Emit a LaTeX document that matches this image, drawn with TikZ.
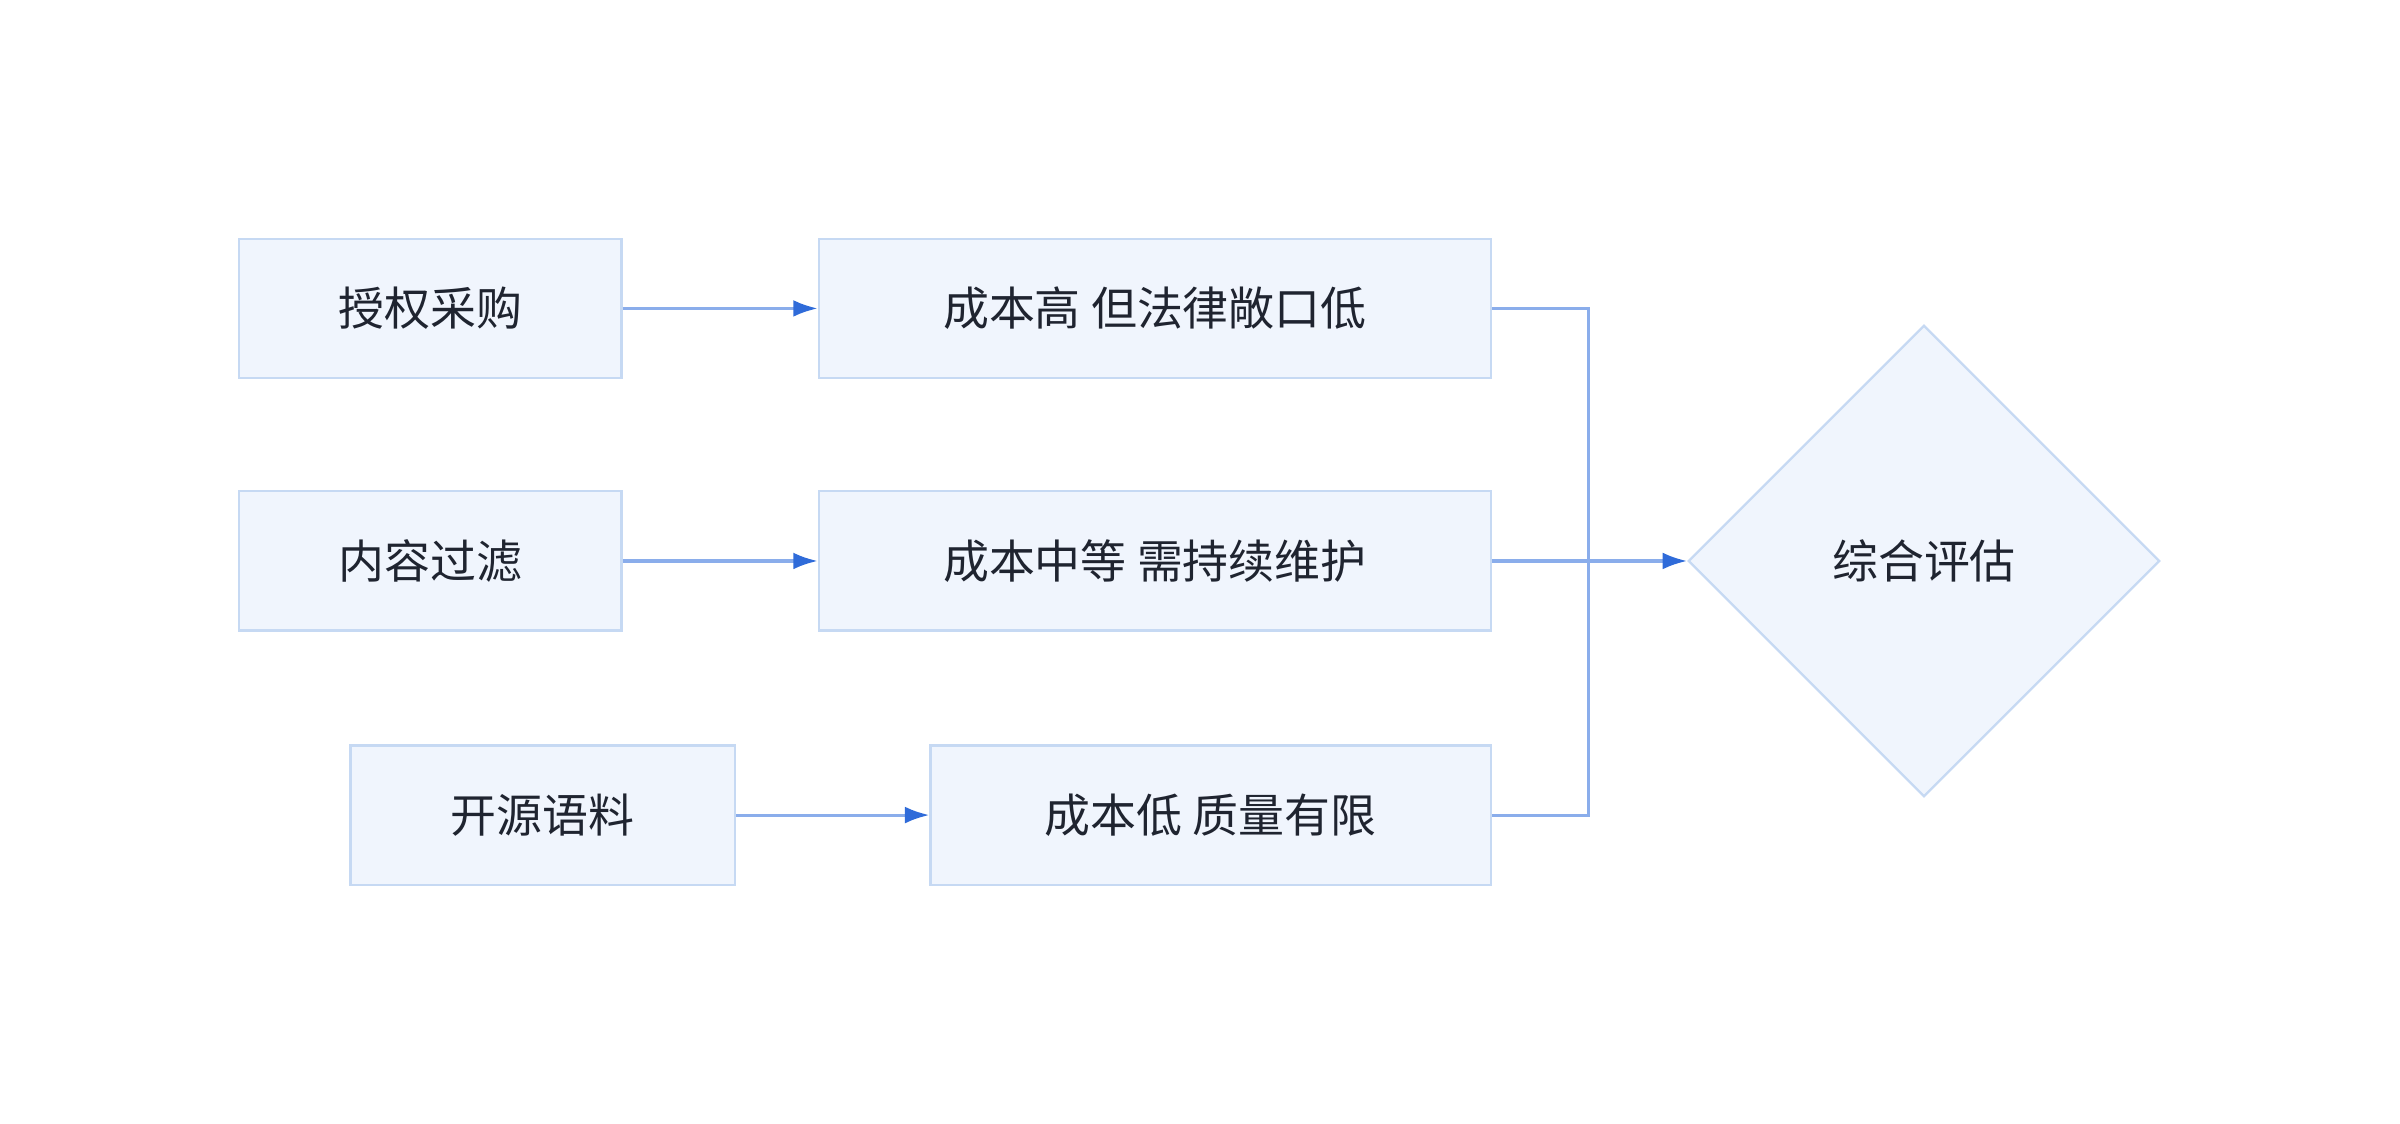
\documentclass[tikz,border=0pt]{standalone}
\usepackage{fontspec}
\setmainfont{Noto Sans CJK SC}
\usetikzlibrary{shapes.geometric,arrows.meta}
\definecolor{boxfill}{HTML}{F0F5FD}
\definecolor{boxline}{HTML}{C6D9F3}
\definecolor{conn}{HTML}{8AADEB}
\definecolor{tip}{HTML}{2F6BD9}
\definecolor{txt}{HTML}{1F2430}
\begin{document}
\begin{tikzpicture}[x=1pt,y=-1pt,
  box/.style={draw=boxline,fill=boxfill,line width=1.5pt,minimum height=91pt,inner sep=0pt,text=txt,font=\fontsize{30}{36}\selectfont},
  dia/.style={diamond,draw=boxline,fill=boxfill,line width=1.5pt,minimum width=308pt,minimum height=308pt,inner sep=0pt,text=txt,font=\fontsize{30}{36}\selectfont},
  arr/.style={draw=conn,line width=2pt,-{Latex[length=16pt,width=11pt,color=tip]}},
  ln/.style={draw=conn,line width=2pt}]
\useasboundingbox (0,0) rectangle (1568,734);
\node[box,minimum width=250pt] (a) at (281,201.5) {授权采购};
\node[box,minimum width=439pt] (a2) at (754.5,201.5) {成本高 但法律敞口低};
\node[box,minimum width=250pt] (b) at (281,366.5) {内容过滤};
\node[box,minimum width=439pt] (b2) at (754.5,366.5) {成本中等 需持续维护};
\node[box,minimum width=251pt] (c) at (354.5,532.5) {开源语料};
\node[box,minimum width=366pt] (c2) at (791,532.5) {成本低 质量有限};
\node[dia] (d) at (1257,366.5) {综合评估};
\coordinate (m) at (1038,366.5);
\draw[arr] (a) -- (a2);
\draw[arr] (b) -- (b2);
\draw[arr] (c) -- (c2);
\draw[ln] (a2.east) -| (m);
\draw[ln] (c2.east) -| (m);
\draw[arr] (b2.east) -- (d.west);
\end{tikzpicture}
\end{document}
